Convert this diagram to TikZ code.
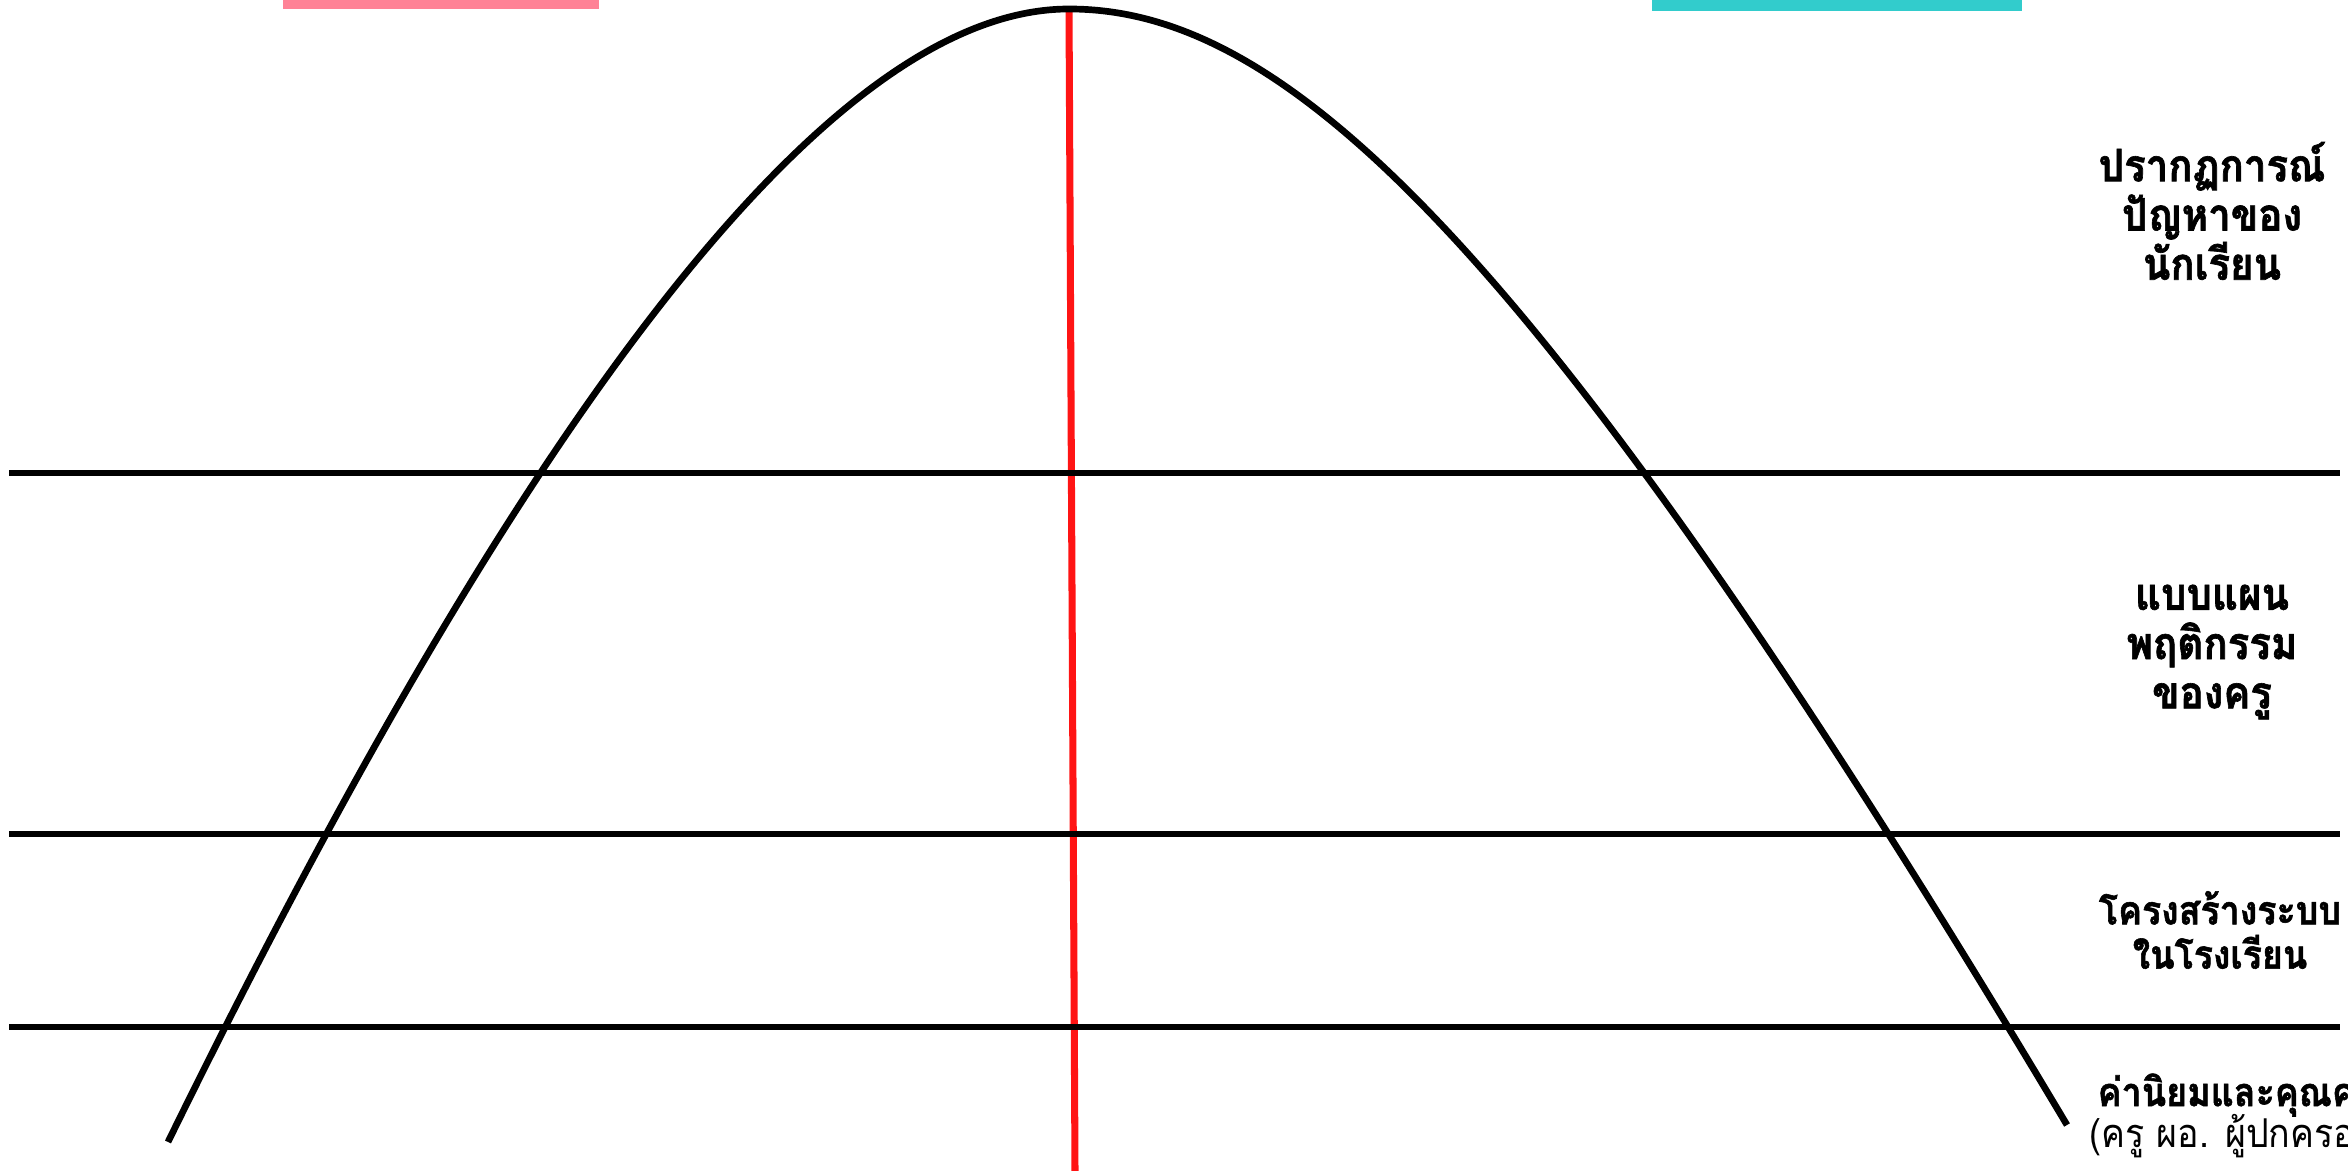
\documentclass[tikz,border=0pt]{standalone}
\usepackage{fontspec}
\newfontfamily\thaifont[Script=Thai, FakeStretch=0.9, BoldFeatures={FakeBold=1.4}]{Loma}
\usetikzlibrary{positioning}
\definecolor{barpink}{RGB}{255,130,150}
\definecolor{barcyan}{RGB}{50,204,204}
\definecolor{axisred}{RGB}{255,20,20}

\begin{document}
\begin{tikzpicture}[x=0.01cm, y=-0.01cm]

    % Définition des styles
    \tikzset{
        layer/.style={line width=1.7pt, black},
        bellcurve/.style={line width=1.9pt, black},
        axisline/.style={line width=2pt, axisred},
        level/.style={align=center, inner sep=0pt, font=\thaifont\bfseries\fontsize{12.7pt}{14pt}\selectfont},
        levelnote/.style={inner sep=0pt, font=\thaifont\fontsize{11.3pt}{13pt}\selectfont}
    }

    \useasboundingbox (0,0) rectangle (2348,1171);

    % --- Barres de couleur en haut ---
    \fill[barpink] (283,0) rectangle (599,9);
    \fill[barcyan] (1652,0) rectangle (2022,11);

    % --- Axe rouge ---
    \coordinate (top) at (1069,9);
    \coordinate (bottom) at (1075,1171);
    \draw[axisline] (top) -- (bottom);

    % --- Niveaux (lignes horizontales) ---
    \draw[layer] (9,473) -- (2340,473);
    \draw[layer] (9,834) -- (2340,834);
    \draw[layer] (9,1027) -- (2340,1027);

    % --- Courbe ---
    \coordinate (leftfoot) at (168,1142);
    \coordinate (rightfoot) at (2067,1125);
    \draw[bellcurve] (leftfoot) .. controls (600,260) and (880,9) .. (top)
        .. controls (1280,9) and (1530,225) .. (rightfoot);

    % --- Textes à droite ---
    \node[level] (phenomena) at (2212,211) {ปรากฏการณ์\\ปัญหาของ\\นักเรียน};
    \node[level] (patterns) at (2212,652) {แบบแผน\\พฤติกรรม\\ของครู};
    \node[level, font=\thaifont\bfseries\fontsize{11.3pt}{12.6pt}\selectfont] (structure) at (2220,930) {โครงสร้างระบบ\\ในโรงเรียน};
    \node[level, anchor=west, font=\thaifont\bfseries\fontsize{11.3pt}{13pt}\selectfont] (values) at (2097,1095) {ค่านิยมและคุณค่า};
    \node[levelnote, anchor=west] (valuesnote) at (2089,1136) {(ครู ผอ. ผู้ปกครอง};

\end{tikzpicture}
\end{document}
